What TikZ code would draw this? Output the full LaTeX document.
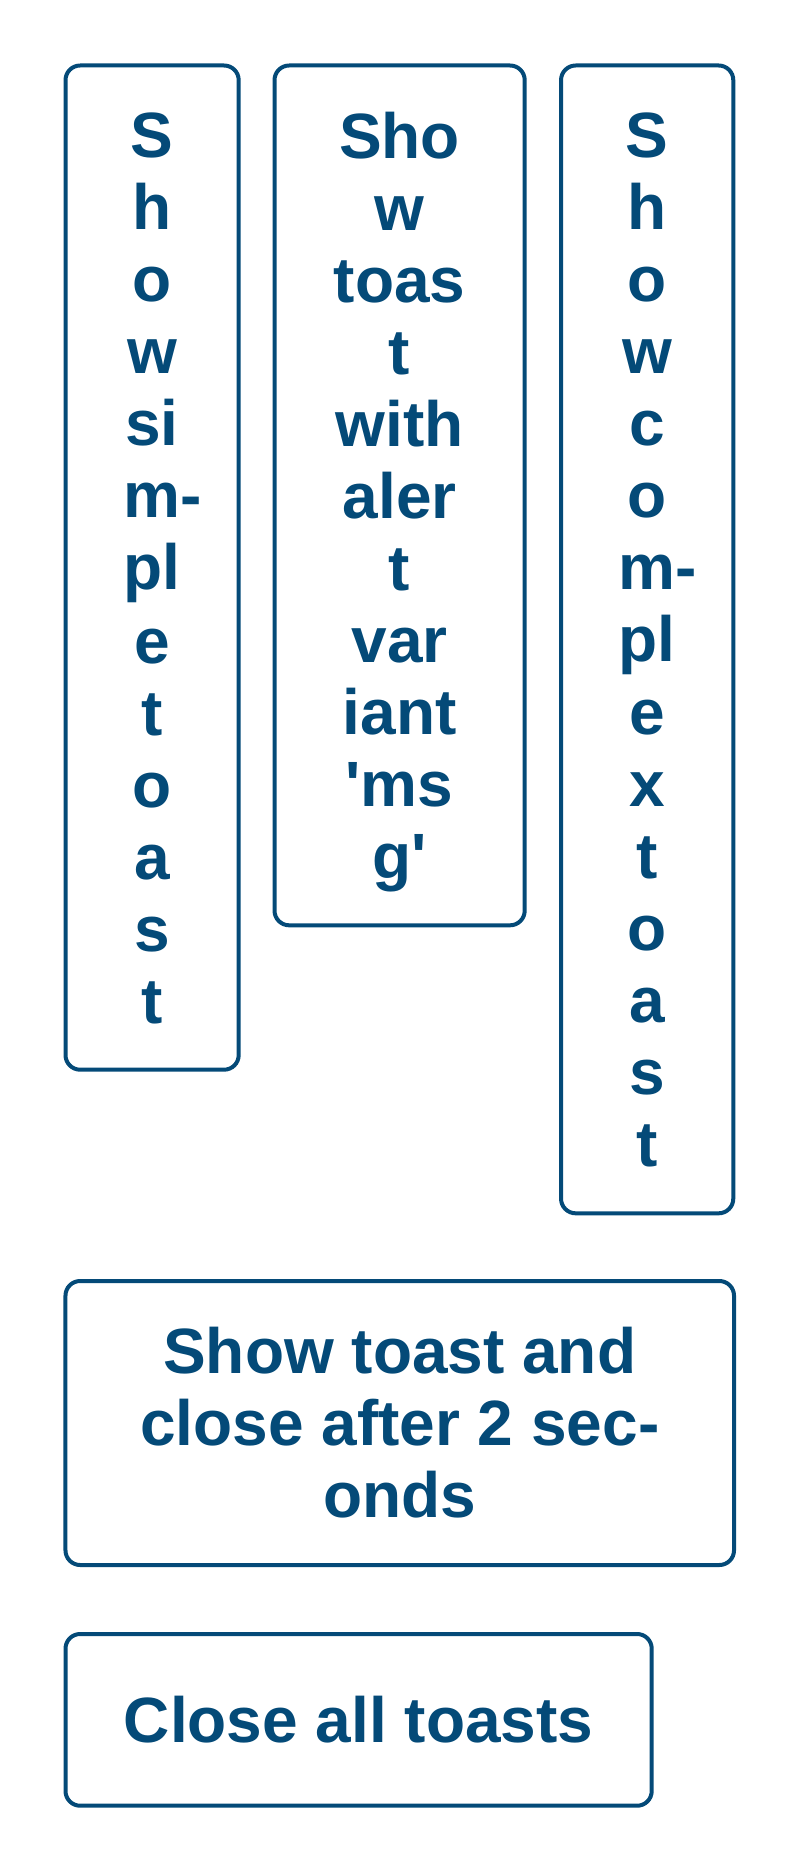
\documentclass[tikz,border=0pt]{standalone}
\usepackage{fontspec}
\newfontfamily\boxfont{Liberation Sans}[Ligatures=TeXOff]
\definecolor{ink}{RGB}{4,74,120}
\newcommand\ts{\rule[-9.9pt]{0pt}{54pt}}
\tikzset{
  btn/.style={draw=ink, line width=3pt, rounded corners=11pt, fill=white,
    inner sep=0pt, outer sep=0pt, align=center, text=ink,
    font=\boxfont\bfseries\fontsize{48}{54}\selectfont}
}
\begin{document}
\begin{tikzpicture}[x=0.75pt,y=-0.75pt]
\useasboundingbox[fill=white] (0,0) rectangle (800,1872);
\node[btn, minimum width=129.9pt, minimum height=753.15pt] (simple) at (152.1,567.6)
  {S\ts\\h\ts\\o\ts\\w\ts\\si\ts\\m\rlap{-}\ts\\pl\ts\\e\ts\\t\ts\\o\ts\\a\ts\\s\ts\\t\ts};
\node[btn, minimum width=187.65pt, minimum height=644.85pt] (alert) at (399.6,495.4)
  {Sho\ts\\w\ts\\toas\ts\\t\ts\\with\ts\\aler\ts\\t\ts\\var\ts\\iant\ts\\'ms\ts\\g'\ts};
\node[btn, minimum width=129.2pt, minimum height=860.85pt] (complex) at (647.15,639.4)
  {S\ts\\h\ts\\o\ts\\w\ts\\c\ts\\o\ts\\m\rlap{-}\ts\\pl\ts\\e\ts\\x\ts\\t\ts\\o\ts\\a\ts\\s\ts\\t\ts};
\node[btn, minimum width=501.4pt, minimum height=213pt] (timed) at (399.75,1423)
  {Show toast and\ts\\close after 2 sec-\ts\\onds\ts};
\node[btn, minimum width=439.65pt, minimum height=128.8pt] (closeall) at (358.6,1719.85)
  {Close all toasts\ts};
\end{tikzpicture}
\end{document}
